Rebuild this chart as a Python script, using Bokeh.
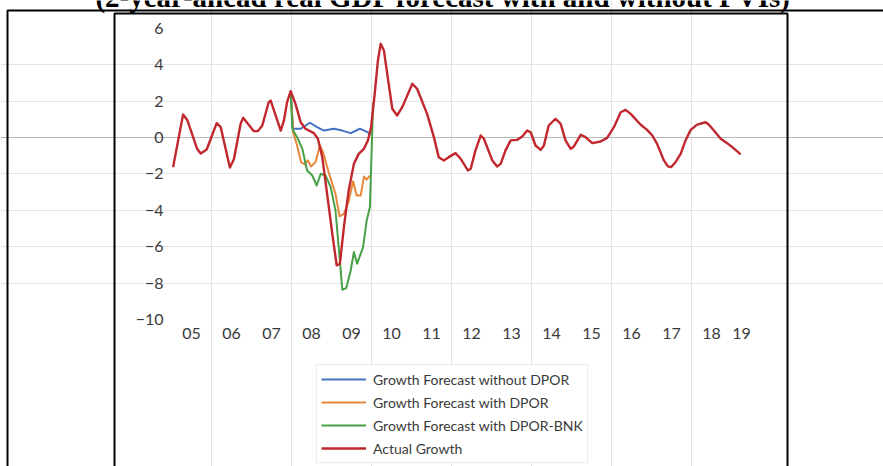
from bokeh.plotting import figure
from bokeh.models import FixedTicker, Legend, LegendItem, BoxAnnotation, Label, Range1d, Grid
from bokeh.embed import file_html
from bokeh.resources import INLINE

title_text = "(2-year-ahead real GDP forecast with and without PVIs)"

tick_years = [2005.5, 2006.5, 2007.5, 2008.5, 2009.5, 2010.5, 2011.5, 2012.5,
              2013.5, 2014.5, 2015.5, 2016.5, 2017.5, 2018.5, 2019.25]
tick_labels = ["05", "06", "07", "08", "09", "10", "11", "12",
               "13", "14", "15", "16", "17", "18", "19"]
y_ticks = [-10, -8, -6, -4, -2, 0, 2, 4, 6]
grid_years = [2006, 2008, 2010, 2012, 2014, 2016, 2018]
x_lim = (2004.975, 2019.3)
y_lim = (-10, 6)

series_names = ["Growth Forecast without DPOR", "Growth Forecast with DPOR",
                "Growth Forecast with DPOR-BNK", "Actual Growth"]

actual_t = [2005.04, 2005.29, 2005.40, 2005.64, 2005.73, 2005.88, 2006.13, 2006.23,
            2006.46, 2006.56, 2006.73, 2006.79, 2007.06, 2007.16, 2007.27, 2007.43,
            2007.48, 2007.73, 2007.81, 2007.89, 2007.98, 2008.10, 2008.23, 2008.35,
            2008.56, 2008.66, 2008.77, 2008.89, 2009.02, 2009.13, 2009.21, 2009.31,
            2009.43, 2009.56, 2009.68, 2009.81, 2009.91, 2009.99, 2010.08, 2010.16,
            2010.23, 2010.31, 2010.52, 2010.64, 2010.77, 2011.02, 2011.14, 2011.39,
            2011.56, 2011.68, 2011.81, 2011.93, 2012.10, 2012.23, 2012.41, 2012.48,
            2012.60, 2012.73, 2012.81, 2013.02, 2013.14, 2013.23, 2013.35, 2013.48,
            2013.64, 2013.77, 2013.89, 2013.98, 2014.10, 2014.23, 2014.31, 2014.43,
            2014.60, 2014.73, 2014.85, 2014.98, 2015.06, 2015.23, 2015.35, 2015.52,
            2015.73, 2015.89, 2016.06, 2016.23, 2016.35, 2016.48, 2016.73, 2016.89,
            2017.02, 2017.14, 2017.31, 2017.41, 2017.49, 2017.60, 2017.73, 2017.85,
            2017.98, 2018.14, 2018.35, 2018.43, 2018.56, 2018.73, 2018.89, 2019.02,
            2019.23]
actual_v = [-1.63, 1.26, 0.93, -0.62, -0.88, -0.66, 0.79, 0.57,
            -1.65, -1.20, 0.77, 1.08, 0.35, 0.35, 0.66, 1.94,
            2.03, 0.38, 0.93, 1.94, 2.55, 1.85, 0.84, 0.48,
            0.24, -0.07, -1.08, -3.10, -5.29, -7.03, -6.94, -4.93,
            -2.91, -1.45, -0.90, -0.62, -0.16, 0.57, 2.40, 4.23,
            5.15, 4.78, 1.58, 1.21, 1.67, 2.95, 2.68, 1.30,
            0.02, -1.08, -1.26, -1.08, -0.86, -1.17, -1.81, -1.72,
            -0.71, 0.11, -0.07, -1.26, -1.59, -1.45, -0.71, -0.16,
            -0.13, 0.05, 0.38, 0.29, -0.44, -0.68, -0.44, 0.66,
            1.03, 0.75, -0.16, -0.62, -0.49, 0.15, 0.02, -0.31,
            -0.22, -0.02, 0.57, 1.39, 1.52, 1.30, 0.70, 0.42,
            0.11, -0.35, -1.26, -1.59, -1.63, -1.36, -0.90, -0.16,
            0.42, 0.71, 0.84, 0.71, 0.38, -0.07, -0.31, -0.53,
            -0.93]

nodpor_t = [2007.98, 2008.04, 2008.23, 2008.46, 2008.64, 2008.81, 2009.06, 2009.27,
            2009.48, 2009.71, 2009.85, 2009.99]
nodpor_v = [2.55, 0.48, 0.48, 0.81, 0.57, 0.38, 0.48, 0.38,
            0.24, 0.48, 0.35, 0.18]

dpor_t = [2007.98, 2008.04, 2008.14, 2008.24, 2008.33, 2008.41, 2008.49, 2008.60,
          2008.71, 2008.79, 2008.93, 2009.10, 2009.20, 2009.31, 2009.43, 2009.54,
          2009.63, 2009.73, 2009.81, 2009.88, 2009.96]
dpor_v = [2.55, 0.29, -0.44, -1.36, -1.48, -1.26, -1.59, -1.36,
          -0.44, -0.81, -1.91, -3.10, -4.33, -4.20, -3.50, -2.40,
          -3.19, -3.19, -2.15, -2.32, -2.09]

bnk_t = [2007.98, 2008.02, 2008.14, 2008.27, 2008.39, 2008.52, 2008.63, 2008.73,
         2008.85, 2008.98, 2009.10, 2009.18, 2009.27, 2009.37, 2009.48, 2009.56,
         2009.64, 2009.79, 2009.88, 2009.96, 2010.04]
bnk_v = [2.55, 0.48, 0.02, -0.62, -1.81, -2.09, -2.64, -1.99,
         -2.09, -2.73, -4.01, -6.03, -8.37, -8.28, -7.31, -6.30,
         -6.94, -6.03, -4.56, -3.83, 1.90]

colors = ["#4472c4", "#e9883a", "#46a046", "#c0282e"]

# canvas geometry (pixels) of the plotting area inside the page picture
W, H = 883, 466
px_left, px_per_year = 171.0, 40.0
py_zero, py_per_unit = 137.0, 18.19
x0 = 2005 + (0 - px_left) / px_per_year
x1 = 2005 + (W - px_left) / px_per_year
y1 = py_zero / py_per_unit
y0 = (py_zero - H) / py_per_unit

p = figure(width=W, height=H, output_backend="svg", toolbar_location=None, tools="",
           x_range=Range1d(x0, x1), y_range=Range1d(y0, y1),
           min_border_left=0, min_border_right=0, min_border_top=0, min_border_bottom=0,
           background_fill_color="white", border_fill_color="white", outline_line_color=None)
p.title.text = ""
p.title.visible = False
p.margin = (0, 0, 0, 0)

# axes drawn at fixed locations inside the frame
p.xaxis.fixed_location = y_lim[0]
p.yaxis.fixed_location = x_lim[0]
p.xaxis.ticker = FixedTicker(ticks=tick_years)
p.xaxis.major_label_overrides = {t: l for t, l in zip(tick_years, tick_labels)}
p.yaxis.ticker = FixedTicker(ticks=y_ticks)
for ax in (p.xaxis[0], p.yaxis[0]):
    ax.axis_line_color = None
    ax.major_tick_line_color = None
    ax.minor_tick_line_color = None
    ax.major_tick_out = 0
    ax.major_tick_in = 0
    ax.minor_tick_out = 0
    ax.major_label_text_font = "Lato"
    ax.major_label_text_font_size = "16px"
    ax.major_label_text_color = "#3a3a3a"
p.xaxis.major_label_standoff = 9
p.yaxis.major_label_standoff = 7

# grids limited to the plot area
p.ygrid.ticker = FixedTicker(ticks=[-8, -6, -4, -2, 2, 4])
p.ygrid.bounds = x_lim
p.ygrid.grid_line_color = "#e4e4e4"
p.xgrid.ticker = FixedTicker(ticks=grid_years)
p.xgrid.bounds = y_lim
p.xgrid.grid_line_color = "#e4e4e4"
zero_grid = Grid(dimension=1, ticker=FixedTicker(ticks=[0]), bounds=x_lim,
                 grid_line_color="#b8b8b8", grid_line_width=1)
p.add_layout(zero_grid)

# lines
r_blue = p.line(nodpor_t, nodpor_v, line_color=colors[0], line_width=2, line_join="round")
r_orange = p.line(dpor_t, dpor_v, line_color=colors[1], line_width=2, line_join="round")
r_green = p.line(bnk_t, bnk_v, line_color=colors[2], line_width=2, line_join="round")
r_red = p.line(actual_t, actual_v, line_color=colors[3], line_width=2.4, line_join="round")

legend = Legend(items=[LegendItem(label=n, renderers=[r]) for n, r in
                       zip(series_names, [r_blue, r_orange, r_green, r_red])],
                location=(316, 3), orientation="vertical",
                label_text_font="Lato", label_text_font_size="14px", label_text_color="#3a3a3a",
                glyph_width=45, glyph_height=20, label_height=20, label_standoff=7,
                spacing=3, padding=4, margin=0,
                border_line_color="#d9d9d9", border_line_width=1,
                background_fill_color="white", background_fill_alpha=1)
p.add_layout(legend)

# frames around the chart
for lft, tp, rgt in [(7, 10, 1000), (114, 13, 787)]:
    p.add_layout(BoxAnnotation(left=lft, right=rgt, top=tp, bottom=1000,
                               left_units="canvas", right_units="canvas",
                               top_units="canvas", bottom_units="canvas",
                               fill_alpha=0, line_color="black", line_alpha=1,
                               line_width=2, level="overlay"))

p.add_layout(Label(x=443, y=-4, x_units="canvas", y_units="canvas", text=title_text,
                   text_align="center", text_baseline="alphabetic",
                   text_font="Liberation Serif", text_font_style="bold",
                   text_font_size="29px", text_color="black"))

open("out.html", "w").write(file_html(p, INLINE))
